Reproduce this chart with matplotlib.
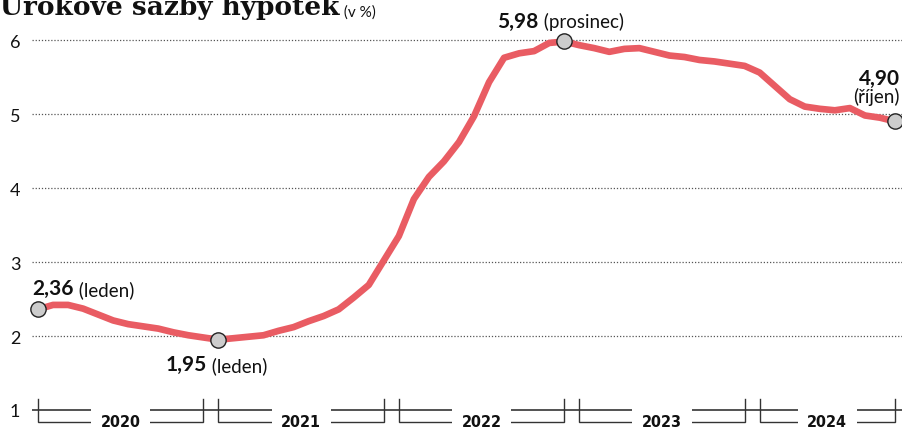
import matplotlib
matplotlib.use("Agg")
import matplotlib.pyplot as plt

# ---- data ----
years = ["2020", "2021", "2022", "2023", "2024"]
months_per_year = [12, 12, 12, 12, 10]
rates = [
    2.36, 2.42, 2.42, 2.37, 2.29, 2.21, 2.16, 2.13, 2.10, 2.05, 2.01, 1.98,   # 2020
    1.95, 1.97, 1.99, 2.01, 2.07, 2.12, 2.20, 2.27, 2.36, 2.52, 2.69, 3.02,   # 2021
    3.35, 3.85, 4.15, 4.36, 4.62, 4.97, 5.43, 5.76, 5.82, 5.85, 5.96, 5.98,   # 2022
    5.93, 5.89, 5.84, 5.88, 5.89, 5.84, 5.79, 5.77, 5.73, 5.71, 5.68, 5.65,   # 2023
    5.56, 5.38, 5.20, 5.10, 5.07, 5.05, 5.08, 4.98, 4.95, 4.90,               # 2024
]
yticks = [1, 2, 3, 4, 5, 6]
highlight_idx = [0, 12, 35, 57]
highlight_vals = ["2,36", "1,95", "5,98", "4,90"]
highlight_months = [" (leden)", " (leden)", " (prosinec)", "(říjen)"]

x = list(range(len(rates)))

W, H = 902, 431
fig = plt.figure(figsize=(W / 100, H / 100), dpi=100)
ax = fig.add_axes([32 / W, 0, 870 / W, 1])
px_per_unit = 74.0
y1_px = 411.0
ax.set_ylim(1 - (H - y1_px) / px_per_unit, 1 + y1_px / px_per_unit)
px_per_month = (895 - 38) / 57
ax.set_xlim(-(38 - 32) / px_per_month, 57 + (902 - 895) / px_per_month)

for s in ax.spines.values():
    s.set_visible(False)
ax.set_xticks([])
ax.set_yticks(yticks)
ax.set_yticklabels([str(v) for v in yticks], fontfamily="Lato", fontsize=13, color="#111")
ax.tick_params(axis="y", length=0, pad=8.5)

for v in yticks:
    if v == 1:
        ax.axhline(v, color="#444", lw=1.3, zorder=1)
    else:
        ax.axhline(v, color="#555", lw=0.9, ls=(0, (1, 1.5)), zorder=1)

# line
ax.plot(x, rates, color="#e95c63", lw=4.8, solid_joinstyle="round",
        solid_capstyle="round", zorder=3)

# year brackets
top_v = 1 + (411 - 400) / px_per_unit
bot_v = 1 + (411 - 423) / px_per_unit
start = 0
for yr, n in zip(years, months_per_year):
    a, b = start, start + n - 1
    ax.plot([a, a, b, b], [top_v, bot_v, bot_v, top_v], color="#333", lw=1.0,
            clip_on=False, zorder=2, solid_joinstyle="miter")
    ax.text((a + b) / 2, bot_v, yr, ha="center", va="center", fontsize=11.5,
            fontweight="bold", fontfamily="DejaVu Sans", fontstretch="condensed",
            color="#111", zorder=4,
            bbox=dict(boxstyle="square,pad=0.6", fc="white", ec="none"))
    start += n

for idx in highlight_idx:
    ax.plot(x[idx], rates[idx], "o", ms=11, mfc="#cccccc", mec="#222",
            mew=1.0, zorder=5, clip_on=False)

bold_kw = dict(fontfamily="Lato", fontweight="bold", fontsize=15, color="#111")
reg_kw = dict(fontfamily="Lato", fontsize=13.5, color="#111")

def label(k, dx, dy):
    idx = highlight_idx[k]
    t = ax.annotate(highlight_vals[k], xy=(x[idx], rates[idx]), xytext=(dx, dy),
                    textcoords="offset pixels", ha="left", va="baseline", **bold_kw)
    ax.annotate(highlight_months[k], xy=(1, 0), xycoords=t, ha="left", va="bottom", **reg_kw)

label(0, -6, 15)
label(1, -53, -30)
label(2, -67, 15)
ax.annotate(highlight_vals[3], xy=(x[57], rates[57]), xytext=(5, 37),
            textcoords="offset pixels", ha="right", va="baseline", **bold_kw)
ax.annotate(highlight_months[3], xy=(x[57], rates[57]), xytext=(5, 19),
            textcoords="offset pixels", ha="right", va="baseline", **reg_kw)

# title (partly cut at the top, as in the reference)
t = fig.text(0, 1 - 15 / H, "Úrokové sazby hypoték", fontfamily="DejaVu Serif",
             fontweight="bold", fontsize=19, color="#111", va="baseline", ha="left")
ax.annotate(" (v %)", xy=(1, 0), xycoords=t, ha="left", va="bottom",
            fontfamily="Lato", fontsize=11, color="#111", annotation_clip=False)

fig.savefig("out.png", dpi=100)
